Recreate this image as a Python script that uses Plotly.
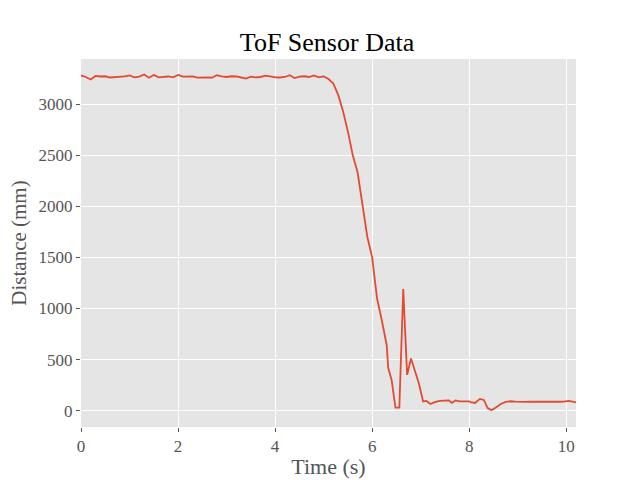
import plotly.graph_objects as go

time_s = [0.0, 0.1, 0.2, 0.3, 0.4, 0.5, 0.6, 0.7, 0.8, 0.9,
          1.0, 1.1, 1.2, 1.3, 1.4, 1.5, 1.6, 1.7, 1.8, 1.9,
          2.0, 2.1, 2.2, 2.3, 2.4, 2.5, 2.6, 2.7, 2.8, 2.9,
          3.0, 3.1, 3.2, 3.3, 3.4, 3.5, 3.6, 3.7, 3.8, 3.9,
          4.0, 4.1, 4.2, 4.3, 4.4, 4.5, 4.6, 4.7, 4.8, 4.9,
          5.0, 5.1, 5.2, 5.3, 5.4, 5.5, 5.6, 5.7, 5.8, 5.9,
          6.0, 6.1, 6.2, 6.3, 6.33, 6.40, 6.48, 6.56, 6.64, 6.72,
          6.80, 6.88, 6.96, 7.05, 7.12, 7.2, 7.3, 7.4, 7.5, 7.58,
          7.64, 7.72, 7.8, 7.9, 8.0, 8.05, 8.12, 8.22, 8.3, 8.38,
          8.46, 8.55, 8.65, 8.75, 8.85, 8.95, 9.05, 9.15, 9.25, 9.35,
          9.45, 9.55, 9.65, 9.75, 9.85, 9.95, 10.05, 10.15, 10.2]

distance_mm = [3280, 3265, 3240, 3275, 3270, 3272, 3260, 3262, 3268, 3270,
               3280, 3262, 3268, 3290, 3258, 3285, 3262, 3265, 3270, 3262,
               3285, 3268, 3272, 3270, 3258, 3262, 3260, 3258, 3282, 3270,
               3265, 3272, 3270, 3260, 3250, 3268, 3262, 3265, 3278, 3272,
               3262, 3260, 3265, 3282, 3255, 3268, 3272, 3265, 3280, 3262,
               3270, 3245, 3200, 3090, 2930, 2730, 2500, 2330, 2000, 1700,
               1500, 1100, 880, 640, 420, 300, 30, 30, 1190, 350,
               510, 390, 270, 90, 95, 65, 85, 95, 95, 100,
               75, 100, 90, 92, 90, 80, 75, 115, 105, 25,
               5, 30, 65, 85, 92, 88, 85, 85, 87, 86,
               90, 86, 88, 86, 87, 88, 95, 85, 80]

x_ticks = [0, 2, 4, 6, 8, 10]
y_ticks = [0, 500, 1000, 1500, 2000, 2500, 3000]

FONT = "Liberation Serif"

fig = go.Figure()
fig.add_trace(go.Scatter(x=time_s, y=distance_mm, mode="lines",
                         line=dict(color="#E24A33", width=1.8),
                         showlegend=False))

axis_common = dict(showgrid=True, gridcolor="white", gridwidth=1,
                   zeroline=False, showline=False, automargin=False,
                   ticks="outside", ticklen=4, tickwidth=1, tickcolor="#555555",
                   tickfont=dict(family=FONT, size=17, color="#555555"))

fig.update_layout(
    width=640, height=480,
    margin=dict(l=81, r=64, t=59, b=53),
    paper_bgcolor="white", plot_bgcolor="#E5E5E5",
    title=dict(text="ToF Sensor Data", x=0.511, xanchor="center",
               y=0.912, yanchor="middle",
               font=dict(family=FONT, size=26, color="black")),
    xaxis=dict(range=[0, 10.2], tickvals=x_ticks,
               title=dict(text="Time (s)", standoff=3,
                          font=dict(family=FONT, size=22, color="#555555")),
               **axis_common),
    yaxis=dict(range=[-160, 3441], tickvals=y_ticks,
               title=dict(text="Distance (mm)", standoff=6,
                          font=dict(family=FONT, size=21, color="#555555")),
               **axis_common),
)

fig.write_html("out.html")
